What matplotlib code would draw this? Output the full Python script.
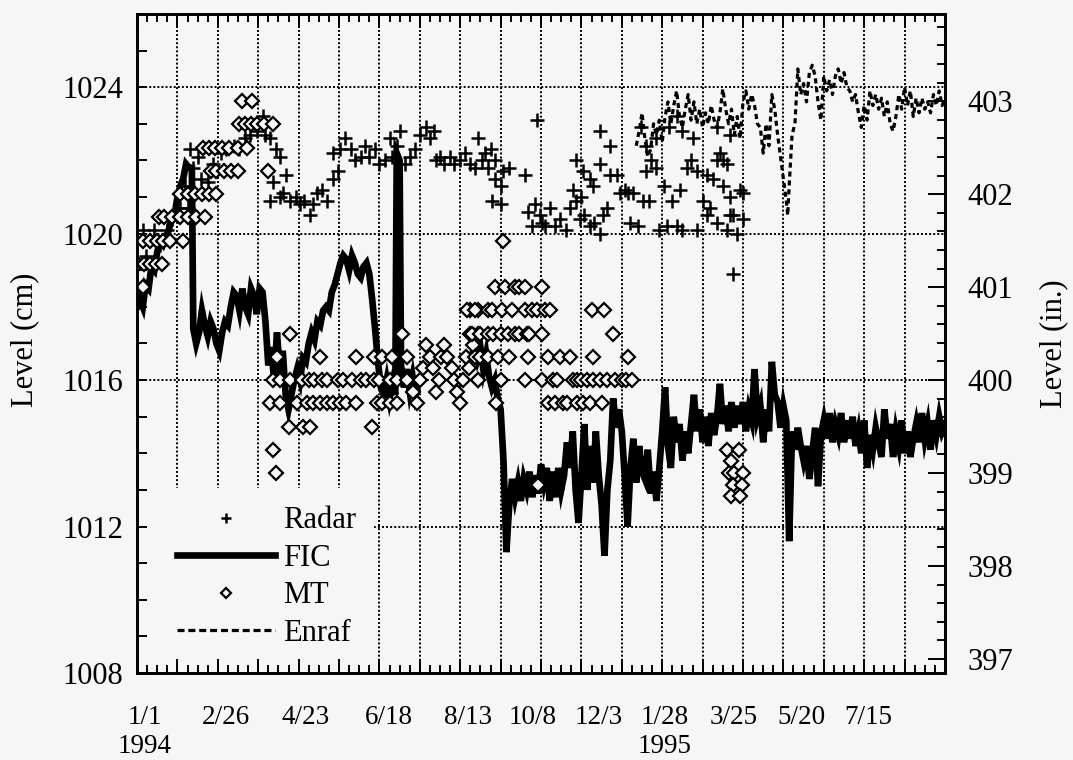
import numpy as np
import matplotlib.pyplot as plt
from matplotlib.ticker import MultipleLocator
from matplotlib.patches import Rectangle

plt.rcParams['font.family'] = ['Liberation Serif', 'DejaVu Serif']

BG = '#f6f6f6'

# all times are days since 1/1/1994
fic_day = [0, 2, 4, 6, 8, 10, 12, 14, 16, 18, 20, 22, 24, 26, 28, 30, 32, 34, 36, 38,
           39, 41, 43, 45, 47, 49, 51, 53, 55, 57, 59, 61, 63, 65, 67, 69, 71, 73, 75, 77,
           79, 81, 83, 85, 87, 89, 91, 93, 95, 97, 99, 101, 103, 105, 107, 109, 111, 113, 115, 117,
           119, 121, 123, 125, 127, 129, 131, 133, 135, 137, 139, 141, 143, 145, 147, 149, 151, 153, 155, 157,
           159, 161, 163, 165, 167, 169, 171, 173, 175, 177, 179, 180, 182, 183, 185, 187, 189, 191, 193, 195,
           213,
           232, 234, 236, 238, 240, 242, 244, 246, 248, 250, 252, 254, 256, 258, 260, 262, 264, 266, 268, 270,
           272, 274, 276, 278, 280, 282, 284, 286, 288, 290, 292, 294, 296, 298, 300, 302, 304, 306, 308, 310,
           312, 314, 316, 318, 320, 322, 324, 326, 328, 330, 332, 334, 336, 338, 340, 342, 344, 346, 348, 350,
           352, 354, 356, 358, 360, 362, 364, 366, 368, 370, 372, 374, 376, 378, 380, 382, 384, 386, 388, 390,
           392, 394, 396, 398, 400, 402, 404, 406, 408, 410, 412, 414, 416, 418, 420, 422, 424, 426, 428, 430,
           432, 434, 436, 438, 440, 442, 444, 446, 448, 450, 452, 454, 456, 458, 460, 462, 464, 466, 468, 470,
           472, 474, 476, 478, 480, 482, 484, 486, 488, 490, 492, 494, 496, 498, 500, 502, 504, 506, 508, 510,
           512, 514, 516, 518, 520, 522, 524, 526, 528, 530, 532, 534, 536, 538, 540, 542, 544, 546, 548, 550,
           552, 554, 556, 558, 560]
fic_cm = [1018.0, 1018.2, 1018.0, 1018.6, 1018.5, 1019.1, 1019.0, 1019.5, 1019.8, 1019.7,
          1019.9, 1020.1, 1020.4, 1020.5, 1021.0, 1021.3, 1021.5, 1021.9, 1021.8, 1021.8,
          1017.4, 1017.0, 1017.3, 1017.9, 1017.5, 1017.2, 1017.6, 1017.4, 1017.0, 1016.8,
          1017.3, 1017.6, 1017.5, 1018.0, 1018.4, 1018.3, 1017.9, 1018.5, 1018.0, 1017.8,
          1018.5, 1018.3, 1017.8, 1018.5, 1018.4, 1017.6, 1016.4, 1016.9, 1016.0, 1017.3,
          1016.2, 1016.8, 1015.6, 1015.2, 1015.6, 1016.0, 1016.3, 1016.0, 1016.6, 1016.5,
          1017.0, 1017.3, 1017.1, 1017.6, 1017.5, 1017.9, 1018.0, 1017.9, 1018.4, 1018.6,
          1018.9, 1019.2, 1019.4, 1019.3, 1019.0, 1019.4, 1019.2, 1018.9, 1018.8, 1019.1,
          1019.2, 1018.9, 1018.2, 1017.4, 1016.5, 1015.8, 1015.6, 1016.0, 1015.5, 1015.9,
          1015.6, 1022.2, 1022.0, 1016.4, 1015.8, 1016.3, 1015.7, 1016.1, 1015.6, 1015.9,
          np.nan,
          1016.6, 1017.0, 1016.6, 1016.9, 1016.3, 1016.7, 1016.1, 1015.8, 1016.0, 1015.5,
          1015.2, 1013.8, 1011.3, 1012.6, 1013.3, 1012.8, 1013.2, 1012.7, 1013.3, 1013.0,
          1013.5, 1012.8, 1013.4, 1012.9, 1013.7, 1013.2, 1013.6, 1012.7, 1013.5, 1012.8,
          1013.6, 1013.0, 1013.4, 1014.3, 1013.6, 1014.6, 1013.0, 1012.1, 1013.4, 1014.8,
          1013.0, 1014.2, 1013.2, 1014.6, 1013.4, 1012.6, 1011.2, 1013.0, 1013.8, 1015.5,
          1014.7, 1015.2, 1014.6, 1013.4, 1012.0, 1013.6, 1014.4, 1013.2, 1014.2, 1013.5,
          1013.3, 1014.1, 1012.9, 1013.5, 1012.7, 1013.6, 1014.6, 1015.8, 1014.2, 1013.6,
          1015.0, 1014.3, 1014.8, 1013.8, 1014.6, 1014.0, 1014.8, 1015.6, 1014.6, 1015.2,
          1014.3, 1015.0, 1014.2, 1015.1, 1014.5, 1015.0, 1015.9, 1014.8, 1015.3, 1014.6,
          1015.4, 1014.7, 1015.3, 1014.8, 1015.4, 1014.6, 1015.2, 1014.9, 1016.3, 1015.0,
          1015.3, 1014.3, 1015.2, 1014.6, 1016.5, 1015.6, 1015.4, 1014.7, 1015.3, 1014.9,
          1011.6, 1014.6, 1014.1, 1014.7, 1014.2, 1013.8, 1014.2, 1013.3, 1014.0, 1014.7,
          1013.1, 1014.5, 1014.9, 1014.4, 1015.1, 1014.3, 1014.8, 1014.5, 1015.1, 1014.3,
          1014.9, 1014.4, 1015.0, 1014.2, 1014.6, 1014.0, 1014.9, 1013.6, 1014.5, 1014.1,
          1014.7, 1014.3, 1013.9, 1015.2, 1014.4, 1014.8, 1013.9, 1014.6, 1014.2, 1014.9,
          1014.0, 1014.6, 1013.9, 1014.4, 1014.8, 1014.3, 1015.1, 1014.4, 1014.8, 1014.1,
          1014.9, 1014.5, 1015.0, 1014.6, 1014.8]

radar_day = [4, 6, 12, 16, 21, 24, 30, 35, 33, 37, 42, 39, 44, 49, 53, 58, 62, 67, 71, 75,
             78, 83, 87, 89, 92, 96, 99,
             92, 94, 99, 101, 103, 106, 110, 113, 116, 120, 122, 125, 128, 132, 136, 139,
             136, 141, 144, 148, 151, 155, 158, 161, 165, 168, 172, 175, 177, 180, 182, 186,
             189, 193, 196, 200, 203, 206, 207, 210, 213, 217, 220, 224, 227, 231, 234, 236,
             239, 241, 243, 245, 248,
             248, 252, 254, 258, 269, 246, 252, 277,
             271, 274, 276, 279, 281, 283, 286, 290, 293, 297, 300, 304, 307, 310, 314, 317,
             321, 323, 326,
             302, 304, 308, 309, 314, 316, 321, 328, 333, 321, 328, 335, 338,
             340, 342, 344, 347, 351, 355, 353, 356, 360, 365, 371, 376, 381, 384, 388, 395,
             402, 404, 406, 399, 392, 397, 406, 409, 411, 418, 420, 420, 413, 416, 409, 411,
             402, 395, 388, 378, 374, 367, 362, 413,
             349, 353, 360, 369, 374, 378, 385, 402, 411]
radar_cm = [1020.1, 1019.4, 1020.1, 1019.7, 1020.1, 1020.4, 1020.7, 1020.7, 1021.3, 1022.3,
            1022.1, 1021.8, 1021.5, 1021.4, 1021.9, 1022.2, 1022.3, 1022.4, 1022.3, 1022.6,
            1022.7, 1022.8, 1023.2, 1022.7, 1022.6, 1022.3, 1022.1,
            1020.9, 1021.4, 1021.0, 1021.1, 1021.6, 1020.9, 1021.0, 1020.8, 1020.9, 1020.5,
            1020.8, 1021.1, 1021.2, 1020.9, 1021.5, 1021.7,
            1022.2, 1022.3, 1022.6, 1022.3, 1022.0, 1022.1, 1022.4, 1022.1, 1022.3, 1021.9,
            1022.0, 1022.6, 1022.1, 1022.4, 1022.8, 1021.9,
            1022.1, 1022.3, 1022.7, 1022.9, 1022.6, 1022.8, 1022.0, 1022.1, 1021.9, 1022.1,
            1021.9, 1022.0, 1022.2, 1021.9, 1021.8, 1022.6,
            1022.0, 1022.2, 1021.8, 1022.3, 1022.0,
            1021.5, 1021.3, 1021.7, 1021.8, 1021.6, 1020.9, 1020.8, 1023.1,
            1020.6, 1020.2, 1020.8, 1020.5, 1020.3, 1020.2, 1020.7, 1020.2, 1020.4, 1020.1,
            1020.7, 1020.9, 1020.4, 1020.5, 1020.2, 1020.3,
            1020.0, 1020.5, 1020.7,
            1021.2, 1022.0, 1021.0, 1021.7, 1021.5, 1021.3, 1021.9, 1021.6, 1021.6, 1022.8,
            1022.4, 1021.1, 1021.2,
            1021.1, 1020.3, 1021.1, 1020.2, 1020.9, 1020.9, 1021.7, 1022.0, 1021.8, 1021.3,
            1020.9, 1021.2, 1021.8, 1022.0, 1021.7, 1021.6,
            1022.0, 1022.2, 1022.0, 1021.5, 1020.9, 1020.7, 1021.3, 1021.9, 1021.0, 1021.2,
            1021.1, 1020.4, 1020.5, 1020.0, 1020.1, 1020.5,
            1020.3, 1020.5, 1020.1, 1020.1, 1020.2, 1020.2, 1020.1, 1018.9,
            1022.9, 1022.4, 1022.6, 1022.9, 1023.2, 1022.8, 1022.6, 1022.9, 1022.7]

# tape readings, in inches
mt_day = [1, 5, 9, 13, 17,
          4, 9, 14, 18, 23, 32,
          4,
          15, 19, 24, 30, 35, 41, 47,
          30, 35, 40, 45, 50, 55,
          51, 55, 60, 65, 70, 91,
          46, 50, 54, 59, 64, 70, 76,
          71, 75, 79, 83, 88, 94,
          73, 80,
          97, 106, 127, 152, 164, 170, 177, 184, 187,
          94, 99, 106, 114, 119, 123, 128, 132, 139, 143, 149, 155, 159, 164, 168, 175, 180, 187,
          92, 99, 111, 118, 122, 127, 132, 136, 141, 145, 152, 166, 170, 175, 180,
          105, 115, 120, 163,
          94, 96,
          191, 194, 196, 198, 200, 203, 205, 207, 209, 211, 213, 215, 218, 220, 222, 224, 226,
          228, 230, 233, 236,
          231, 236, 231, 236,
          248, 255, 262, 265, 269, 281,
          229, 234, 243, 246, 253, 260, 269, 274, 277, 283, 286, 315, 324,
          232, 238, 243, 247, 252, 257, 262, 265, 270, 272, 281, 330,
          234, 238, 243, 250, 258, 271, 285, 293, 300, 316, 340,
          236, 252, 269, 281, 288, 291, 302, 305, 308, 312, 316, 321, 326, 331, 336, 339, 343,
          249, 285, 290, 295, 298, 305, 309, 314, 322,
          278, 254,
          409, 417, 412, 410, 414, 420, 413, 419, 412, 418]
mt_in = [401.25, 401.25, 401.25, 401.25, 401.25,
         401.5, 401.5, 401.5, 401.5, 401.5, 401.5,
         401.0,
         401.75, 401.75, 401.75, 401.75, 401.75, 401.75, 401.75,
         402.0, 402.0, 402.0, 402.0, 402.0, 402.0,
         402.25, 402.25, 402.25, 402.25, 402.25, 402.25,
         402.5, 402.5, 402.5, 402.5, 402.5, 402.5, 402.5,
         402.75, 402.75, 402.75, 402.75, 402.75, 402.75,
         403.0, 403.0,
         400.25, 400.5, 400.25, 400.25, 400.25, 400.25, 400.25, 400.5, 400.25,
         400.0, 400.0, 400.0, 400.0, 400.0, 400.0, 400.0, 400.0, 400.0, 400.0, 400.0, 400.0,
         400.0, 400.0, 400.0, 400.0, 400.0, 400.0,
         399.75, 399.75, 399.75, 399.75, 399.75, 399.75, 399.75, 399.75, 399.75, 399.75,
         399.75, 399.75, 399.75, 399.75, 399.75,
         399.5, 399.5, 399.5, 399.5,
         399.25, 399.0,
         399.875, 399.75, 400.0, 400.125, 400.375, 400.25, 400.125, 399.875, 400.0, 400.25,
         400.375, 400.25, 400.125, 400.0, 399.875, 399.75, 400.0,
         400.25, 400.125, 400.375, 400.0,
         400.75, 400.75, 400.5, 400.5,
         401.0, 401.0, 401.0, 401.0, 401.0, 401.0,
         400.75, 400.75, 400.75, 400.75, 400.75, 400.75, 400.75, 400.75, 400.75, 400.75,
         400.75, 400.75, 400.75,
         400.5, 400.5, 400.5, 400.5, 400.5, 400.5, 400.5, 400.5, 400.5, 400.5, 400.5, 400.5,
         400.25, 400.25, 400.25, 400.25, 400.25, 400.25, 400.25, 400.25, 400.25, 400.25, 400.25,
         400.0, 400.0, 400.0, 400.0, 400.0, 400.0, 400.0, 400.0, 400.0, 400.0, 400.0, 400.0,
         400.0, 400.0, 400.0, 400.0, 400.0,
         399.75, 399.75, 399.75, 399.75, 399.75, 399.75, 399.75, 399.75, 399.75,
         398.875, 401.5,
         399.25, 399.25, 399.125, 399.0, 399.0, 399.0, 398.875, 398.875, 398.75, 398.75]

enraf_day = [346, 348, 350, 352, 354, 356, 358, 360, 362, 364, 366, 368, 370, 372, 374, 376,
             378, 380, 382, 384, 386, 388, 390, 392, 394, 396, 398, 400, 402, 404, 406, 408,
             410, 412, 414, 416, 418, 420, 422, 424, 426, 428, 430, 432, 434, 436, 438, 440,
             442, 444, 446, 448, 450, 451, 452, 454, 456, 458, 460, 462, 464, 466, 468, 470,
             472, 474, 476, 478, 480, 482, 484, 486, 488, 490, 492, 494, 496, 498, 500, 502,
             504, 506, 508, 510, 512, 514, 516, 518, 520, 522, 524, 526, 528, 530, 532, 534,
             536, 538, 540, 542, 544, 546, 548, 550, 552, 554, 556, 558, 560]
enraf_cm = [1022.4, 1022.8, 1023.3, 1022.6, 1022.1, 1022.3, 1023.0, 1022.7, 1023.1, 1022.5,
            1023.2, 1023.6, 1023.0, 1023.5, 1023.9, 1023.2, 1022.9, 1023.4, 1023.8, 1023.1,
            1023.6, 1023.0, 1023.4, 1022.9, 1023.3, 1023.0, 1023.5, 1023.1, 1022.9, 1023.3,
            1023.95, 1023.4,
            1023.0, 1023.4, 1022.7, 1023.2, 1022.6, 1023.6, 1023.9, 1023.4, 1023.8, 1023.5,
            1023.0, 1022.9, 1022.2, 1023.0, 1022.4, 1023.8, 1023.4, 1022.7, 1022.1, 1021.5,
            1020.9, 1020.5, 1021.3, 1022.7, 1023.0, 1024.5, 1023.8, 1024.1, 1023.6, 1024.4,
            1024.6, 1024.3, 1023.6, 1023.1, 1024.3, 1023.9, 1024.2, 1023.8, 1024.3, 1024.5,
            1024.1, 1024.4, 1024.0, 1023.9, 1023.6, 1023.8, 1023.3, 1022.9, 1023.5, 1023.1,
            1023.9, 1023.5, 1023.8, 1023.4, 1023.7, 1023.2, 1023.6, 1023.0, 1022.8, 1023.2,
            1023.8, 1023.4, 1024.0, 1023.5, 1023.9, 1023.2, 1023.7, 1023.3, 1023.7, 1023.4,
            1023.6, 1023.3, 1023.8, 1023.5, 1023.9, 1023.5, 1023.7]

date_labels = ['1/1', '2/26', '4/23', '6/18', '8/13', '10/8', '12/3', '1/28', '3/25', '5/20', '7/15']
date_label_pos = [5.5, 61.7, 117, 174.6, 229.4, 274.4, 320, 366, 413.7, 460.8, 506.6]
year_labels = ['1994', '1995']
year_label_pos = [5.5, 366]

fig = plt.figure(figsize=(10.73, 7.6), dpi=100, facecolor=BG)
ax = fig.add_axes([0.1277, 0.1145, 0.7530, 0.8671])
ax.set_facecolor(BG)
ax.set_xlim(0, 560)
ax.set_ylim(1008, 1026)

# dotted grid, drawn by hand so the legend patch can hide it without hiding ticks
for x in np.arange(28, 560, 28):
    ax.axvline(x, color='k', lw=1.4, ls=(0, (1, 1.1)), zorder=1)
for y in np.arange(1012, 1025, 4):
    ax.axhline(y, color='k', lw=1.4, ls=(0, (1, 1.1)), zorder=1)

ax.plot(fic_day, fic_cm, color='k', lw=4.8, solid_joinstyle='miter', zorder=2, label='FIC')
ax.plot(enraf_day, enraf_cm, color='k', lw=2.3, ls=(0, (1.6, 1.2)), zorder=3, label='Enraf')
ax.plot(radar_day, radar_cm, ls='none', marker='+', ms=10, mew=1.8, color='k', zorder=3,
        label='Radar')
ax.plot(mt_day, np.array(mt_in) * 2.54, ls='none', marker='D', ms=7.3, mew=1.6,
        mec='k', mfc=BG, zorder=4, label='MT')

# blank area behind the legend
ax.add_patch(Rectangle((0, 0), 0.293, 0.281, transform=ax.transAxes, facecolor=BG,
                       edgecolor='none', zorder=1.5))

h, l = ax.get_legend_handles_labels()
order = [l.index(n) for n in ['Radar', 'FIC', 'MT', 'Enraf']]
leg = ax.legend([h[i] for i in order], [l[i] for i in order], loc='upper left',
                bbox_to_anchor=(0.05, 0.253), frameon=False, fontsize=22, numpoints=1,
                handlelength=3.2, handletextpad=0.27, labelspacing=0.28, borderpad=0,
                borderaxespad=0, markerscale=0.7)
leg.set_zorder(5)
for line in leg.get_lines():
    if line.get_label() == 'Enraf':
        line.set_linestyle((0, (2.2, 1.2)))

ax.set_axisbelow(False)
ax.xaxis.set_major_locator(MultipleLocator(28))
ax.xaxis.set_minor_locator(MultipleLocator(7))
ax.yaxis.set_major_locator(MultipleLocator(4))
ax.yaxis.set_minor_locator(MultipleLocator(1))
ax.tick_params(axis='x', which='both', direction='in', top=True, bottom=True,
               labelbottom=False, width=1.4)
ax.tick_params(axis='x', which='major', length=10)
ax.tick_params(axis='x', which='minor', length=5.5)
ax.tick_params(axis='y', which='both', direction='in', left=True, right=False,
               length=7, width=1.4, labelsize=22, pad=10)
for s in ax.spines.values():
    s.set_linewidth(1.9)

for pos, txt in zip(date_label_pos, date_labels):
    ax.text(pos, -0.067, txt, transform=ax.get_xaxis_transform(), ha='center',
            va='center', fontsize=19.5)
for pos, txt in zip(year_label_pos, year_labels):
    ax.text(pos, -0.112, txt, transform=ax.get_xaxis_transform(), ha='center',
            va='center', fontsize=19.5)

ax.set_ylabel('Level (cm)', fontsize=22)
ax.yaxis.set_label_coords(-0.121, 0.505)

ax2 = ax.twinx()
ax2.set_ylim(1008 / 2.54, 1026 / 2.54)
ax2.yaxis.set_major_locator(MultipleLocator(1))
ax2.yaxis.set_minor_locator(MultipleLocator(0.2))
ax2.tick_params(axis='y', which='both', direction='in', width=1.4, labelsize=22, pad=16)
ax2.tick_params(axis='y', which='major', length=12)
ax2.tick_params(axis='y', which='minor', length=6)
for s in ax2.spines.values():
    s.set_linewidth(1.9)
ax2.set_ylabel('Level (in.)', fontsize=22)
ax2.yaxis.set_label_coords(1.117, 0.5)

fig.savefig('out.png', dpi=100, facecolor=BG)
